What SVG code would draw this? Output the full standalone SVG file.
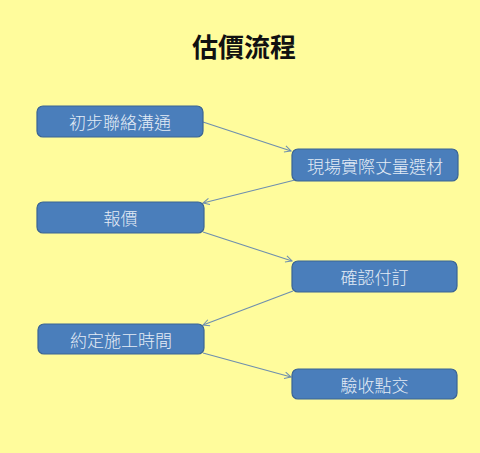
<svg xmlns="http://www.w3.org/2000/svg" width="480" height="453" viewBox="0 0 480 453">
<style>
.box{fill:#4A7EBB;stroke:#3A6494;stroke-width:1.2}
.lbl{font-family:"Noto Sans CJK TC","Noto Sans CJK SC",sans-serif;font-size:17px;font-weight:300;fill:#E4ECF6;text-anchor:middle;dominant-baseline:central}
.title{font-family:"Noto Sans CJK TC","Noto Sans CJK SC",sans-serif;font-size:26px;font-weight:bold;fill:#111;text-anchor:middle}
.con{stroke:#6F8FAE;stroke-width:1.2;fill:none;marker-end:url(#arr)}
</style>
<defs>
<marker id="arr" viewBox="0 0 10 10" refX="9" refY="5" markerWidth="8" markerHeight="8" orient="auto" markerUnits="userSpaceOnUse">
<path d="M1,1 L9,5 L1,9" fill="none" stroke="#6F8FAE" stroke-width="1.3"/>
</marker>
</defs>
<rect width="480" height="453" fill="#FFFC9C"/>
<text class="title" x="244" y="57">估價流程</text>
<g id="connectors">
<line class="con" x1="203" y1="122" x2="291" y2="151"/>
<line class="con" x1="295" y1="180" x2="203" y2="203"/>
<line class="con" x1="203" y1="232" x2="292" y2="261"/>
<line class="con" x1="293" y1="291" x2="203" y2="325"/>
<line class="con" x1="203" y1="353" x2="291" y2="377"/>
</g>
<g id="n1"><rect class="box" x="37" y="106" width="166" height="31" rx="6"/><text class="lbl" x="120" y="121.5">初步聯絡溝通</text></g>
<g id="n2"><rect class="box" x="292" y="149" width="166" height="32" rx="6"/><text class="lbl" x="375" y="165">現場實際丈量選材</text></g>
<g id="n3"><rect class="box" x="37" y="202" width="167" height="31" rx="6"/><text class="lbl" x="120.5" y="217.5">報價</text></g>
<g id="n4"><rect class="box" x="292" y="261" width="165" height="31" rx="6"/><text class="lbl" x="374.5" y="276.5">確認付訂</text></g>
<g id="n5"><rect class="box" x="38" y="324" width="166" height="30" rx="6"/><text class="lbl" x="121" y="339">約定施工時間</text></g>
<g id="n6"><rect class="box" x="292" y="369" width="165" height="30" rx="6"/><text class="lbl" x="374.5" y="384">驗收點交</text></g>
</svg>
